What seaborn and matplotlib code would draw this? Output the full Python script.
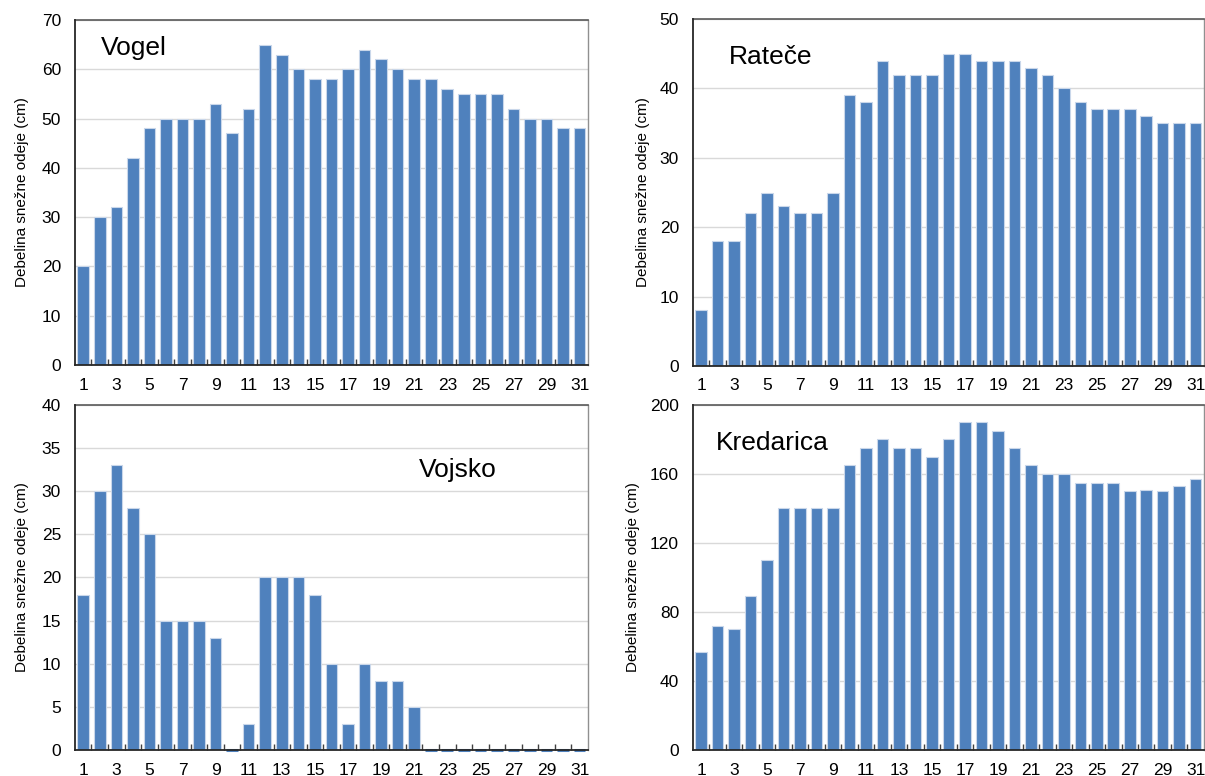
import numpy as np
import pandas as pd
import matplotlib
matplotlib.use("Agg")
import matplotlib.pyplot as plt
import seaborn as sns

# Daily snow depth (cm) for four stations, days 1-31
days = list(range(1, 32))
vogel = [20, 30, 32, 42, 48, 50, 50, 50, 53, 47, 52, 65, 63, 60, 58, 58,
         60, 64, 62, 60, 58, 58, 56, 55, 55, 55, 52, 50, 50, 48, 48]
ratece = [8, 18, 18, 22, 25, 23, 22, 22, 25, 39, 38, 44, 42, 42, 42, 45,
          45, 44, 44, 44, 43, 42, 40, 38, 37, 37, 37, 36, 35, 35, 35]
vojsko = [18, 30, 33, 28, 25, 15, 15, 15, 13, 0, 3, 20, 20, 20, 18, 10,
          3, 10, 8, 8, 5, 0, 0, 0, 0, 0, 0, 0, 0, 0, 0]
kredarica = [57, 72, 70, 89, 110, 140, 140, 140, 140, 165, 175, 180, 175,
             175, 170, 180, 190, 190, 185, 175, 165, 160, 160, 155, 155,
             155, 150, 151, 150, 153, 157]

stations = ["Vogel", "Rateče", "Vojsko", "Kredarica"]
series = [vogel, ratece, vojsko, kredarica]
y_max = [70, 50, 40, 200]
y_step = [10, 10, 5, 40]
ylabel = "Debelina snežne odeje (cm)"

sns.set_theme(style="white")
plt.rcParams["font.family"] = ["Liberation Sans", "DejaVu Sans"]

BAR = "#4F81BD"
fig = plt.figure(figsize=(12.05, 7.76), dpi=100)

# axes rectangles in figure fractions
boxes = [
    [0.0622, 0.5296, 0.4257, 0.4446],
    [0.5751, 0.5284, 0.4240, 0.4470],
    [0.0622, 0.0335, 0.4257, 0.4446],
    [0.5751, 0.0335, 0.4240, 0.4446],
]
# station name positions (axes fraction, left/baseline)
name_pos = [(0.05, 0.90), (0.07, 0.87), (0.67, 0.79), (0.045, 0.87)]
label_pad = [9, 7, 9, 7]

for box, name, vals, ym, st, npos, lp in zip(boxes, stations, series, y_max,
                                             y_step, name_pos, label_pad):
    ax = fig.add_axes(box)
    df = pd.DataFrame({"dan": [str(d) for d in days], "sneg": vals})
    sns.barplot(data=df, x="dan", y="sneg", color=BAR, saturation=1,
                width=0.7, edgecolor="#C9D7EA", linewidth=0.8, ax=ax,
                zorder=2)
    # days with no snow show as a thin line on the baseline
    for p in ax.patches:
        if p.get_height() == 0:
            p.set_edgecolor(BAR)
            p.set_linewidth(2.2)
            p.set_clip_on(False)
            p.set_zorder(1)
    ax.set_xlim(-0.5, 30.5)
    ax.set_ylim(0, ym)
    ax.set_yticks(np.arange(0, ym + 0.1, st))
    ax.yaxis.grid(True, color="#D9D9D9", linewidth=1.0, zorder=0)
    ax.set_axisbelow(True)
    ax.set_xticks(range(0, 31, 2))
    ax.set_xticklabels([str(d) for d in days[::2]])
    ax.set_xticks(np.arange(0.5, 30.5, 1.0), minor=True)
    ax.tick_params(axis="x", which="major", length=0, pad=9,
                   labelsize=12.5, colors="black")
    ax.tick_params(axis="x", which="minor", direction="in", length=4,
                   width=1, color="#404040", bottom=True)
    ax.tick_params(axis="y", length=0, pad=10, labelsize=12.5,
                   colors="black")
    ax.set_xlabel("")
    ax.set_ylabel(ylabel, fontsize=11, labelpad=lp, color="black")
    for side in ["left", "bottom"]:
        ax.spines[side].set_color("#262626")
        ax.spines[side].set_linewidth(1.3)
        ax.spines[side].set_zorder(3)
    ax.spines["top"].set_color("#595959")
    ax.spines["top"].set_linewidth(1.2)
    ax.spines["right"].set_color("#909090")
    ax.spines["right"].set_linewidth(1.0)
    ax.text(npos[0], npos[1], name, transform=ax.transAxes, fontsize=19,
            color="black", ha="left", va="baseline")

fig.savefig("out.png", dpi=100)
